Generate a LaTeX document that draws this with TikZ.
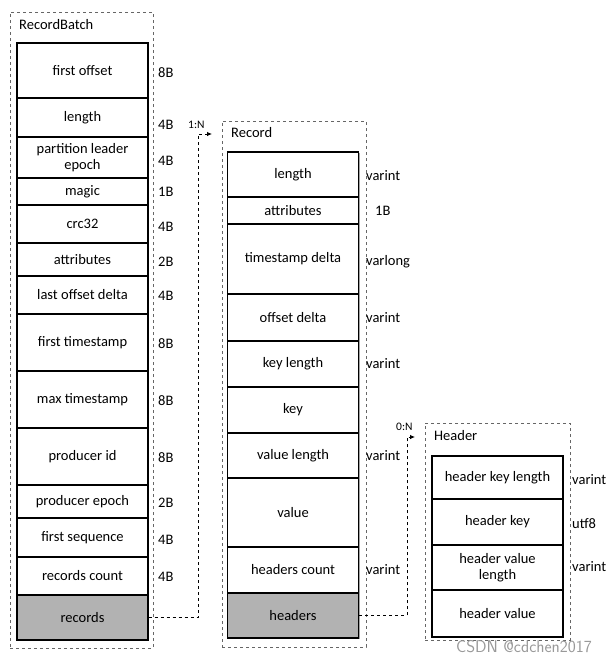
\documentclass[tikz,border=0pt]{standalone}
\usepackage{fontspec}
\setmainfont{Carlito}
\usetikzlibrary{positioning,shadows,arrows.meta}
\tikzset{
	field/.style={draw=black, line width=1.3pt, fill=white, minimum width=131pt, inner sep=1pt, align=center, drop shadow={shadow xshift=1.3pt, shadow yshift=-1.3pt, fill=black!45, opacity=0.8}, font=\fontsize{14.5}{15.5}\selectfont},
	grayfield/.style={field, fill=black!30},
	groupbox/.style={draw=black!60, dashed, line width=0.7pt, inner sep=0pt},
	bytes/.style={anchor=west, inner sep=0pt, font=\fontsize{14.5}{16}\selectfont},
	grouptitle/.style={anchor=west, inner sep=0pt, font=\fontsize{14.5}{16}\selectfont},
	link/.style={dashed, line width=0.8pt, -{Latex[length=5pt,width=4.5pt]}},
}
\begin{document}
\begin{tikzpicture}[x=1pt,y=-1pt]
		\useasboundingbox (0,0) rectangle (615,662);
		\node[groupbox, minimum width=143pt, minimum height=636pt] (batch) at (81.5,330) {};
		\node[groupbox, minimum width=144pt, minimum height=526pt] (record) at (294,384) {};
		\node[groupbox, minimum width=145pt, minimum height=217pt] (header) at (497.5,531.5) {};
		\node[grouptitle] (batch-t) at (19,25) {RecordBatch};
		\node[grouptitle] (record-t) at (231,133) {Record};
		\node[grouptitle] (header-t) at (434,436) {Header};
		\node[field, minimum height=55pt] (fo) at (82.5,70.5) {first offset};
		\node[field, minimum height=39pt] (len) at (82.5,117.5) {length};
		\node[field, minimum height=41pt] (ple) at (82.5,157.5) {partition leader\\epoch};
		\node[field, minimum height=27pt] (magic) at (82.5,191.5) {magic};
		\node[field, minimum height=38pt] (crc) at (82.5,224) {crc32};
		\node[field, minimum height=33pt] (attr) at (82.5,259.5) {attributes};
		\node[field, minimum height=38pt] (lod) at (82.5,295) {last offset delta};
		\node[field, minimum height=57pt] (fts) at (82.5,342.5) {first timestamp};
		\node[field, minimum height=57pt] (mts) at (82.5,399.5) {max timestamp};
		\node[field, minimum height=57pt] (pid) at (82.5,456.5) {producer id};
		\node[field, minimum height=33pt] (pep) at (82.5,501.5) {producer epoch};
		\node[field, minimum height=39pt] (fseq) at (82.5,537.5) {first sequence};
		\node[field, minimum height=38pt] (rcnt) at (82.5,576) {records count};
		\node[grayfield, minimum height=45pt] (recs) at (82.5,617.5) {records};
		\node[bytes] (fo-b) at (158,73) {8B};
		\node[bytes] (len-b) at (158,125) {4B};
		\node[bytes] (ple-b) at (158,161) {4B};
		\node[bytes] (magic-b) at (158,192) {1B};
		\node[bytes] (crc-b) at (158,227) {4B};
		\node[bytes] (attr-b) at (158,262) {2B};
		\node[bytes] (lod-b) at (158,296) {4B};
		\node[bytes] (fts-b) at (158,344) {8B};
		\node[bytes] (mts-b) at (158,401) {8B};
		\node[bytes] (pid-b) at (158,458) {8B};
		\node[bytes] (pep-b) at (158,503) {2B};
		\node[bytes] (fseq-b) at (158,540) {4B};
		\node[bytes] (rcnt-b) at (158,577) {4B};
		\node[field, minimum height=45pt] (rlen) at (293,174.5) {length};
		\node[field, minimum height=27pt] (rattr) at (293,210.5) {attributes};
		\node[field, minimum height=70pt] (tsd) at (293,259) {timestamp delta};
		\node[field, minimum height=47pt] (ofd) at (293,317.5) {offset delta};
		\node[field, minimum height=46pt] (kl) at (293,364) {key length};
		\node[field, minimum height=46pt] (key) at (293,410) {key};
		\node[field, minimum height=45pt] (vl) at (293,455.5) {value length};
		\node[field, minimum height=69pt] (val) at (293,512.5) {value};
		\node[field, minimum height=46pt] (hc) at (293,570) {headers count};
		\node[grayfield, minimum height=45pt] (hdrs) at (293,615.5) {headers};
		\node[bytes] (rlen-b) at (366,176) {varint};
		\node[bytes] (rattr-b) at (375,211) {1B};
		\node[bytes] (tsd-b) at (366,262) {varlong};
		\node[bytes] (ofd-b) at (366,318) {varint};
		\node[bytes] (kl-b) at (366,364) {varint};
		\node[bytes] (vl-b) at (366,456) {varint};
		\node[bytes] (hc-b) at (366,570) {varint};
		\node[field, minimum height=43pt] (hkl) at (497.5,477.5) {header key length};
		\node[field, minimum height=46pt] (hk) at (497.5,522) {header key};
		\node[field, minimum height=45pt] (hvl) at (497.5,567.5) {header value\\length};
		\node[field, minimum height=47pt] (hv) at (497.5,613.5) {header value};
		\node[bytes] (hkl-b) at (572,480) {varint};
		\node[bytes] (hk-b) at (572,524) {utf8};
		\node[bytes] (hvl-b) at (572,567) {varint};
		\coordinate (up1) at (198,134);
		\coordinate (tip1) at (212,134);
		\coordinate (up2) at (407,437);
		\coordinate (tip2) at (415,437);
		\draw[link] (recs.east) -| (up1) -- (tip1);
		\draw[link] (hdrs.east) -| (up2) -- (tip2);
		\node[bytes, font=\fontsize{11.5}{13}\selectfont] (one-n) at (188,125) {1:N};
		\node[bytes, font=\fontsize{11.5}{13}\selectfont] (zero-n) at (396,427) {0:N};
		\node[text=black!40, font=\fontsize{17}{19}\selectfont\sffamily] (mark) at (524,647) {CSDN @cdchen2017};
\end{tikzpicture}
\end{document}
